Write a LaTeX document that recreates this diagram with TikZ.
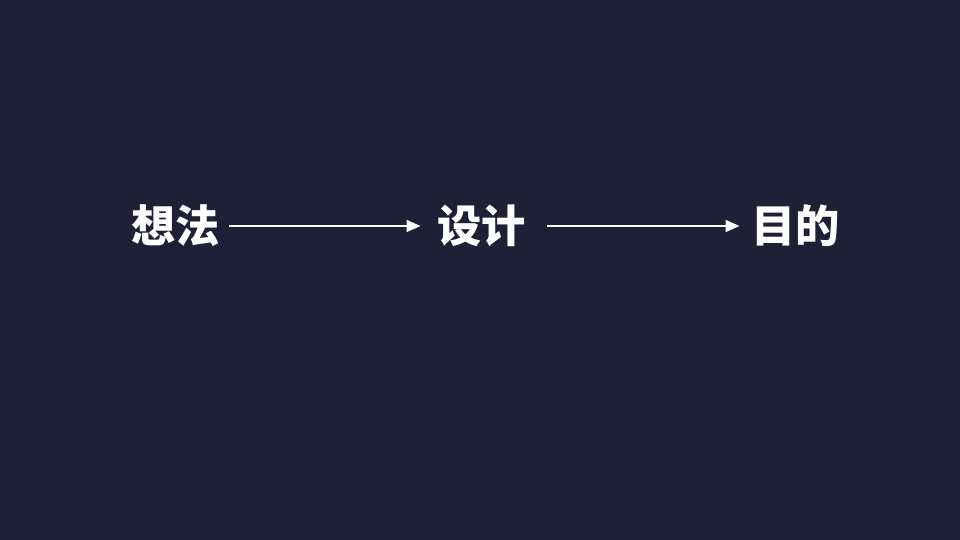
\documentclass[tikz,border=0pt]{standalone}
\usepackage{fontspec}
\newfontfamily\cjk{Noto Sans CJK SC}
\usetikzlibrary{arrows.meta}
\definecolor{bgnavy}{HTML}{1F2035}

\begin{document}
\begin{tikzpicture}[x = 1cm, y = 1cm,
    word/.style = {text = white, inner sep = 0pt, font = \cjk\bfseries\fontsize{12.6}{15}\selectfont},
    flow/.style = {draw = white, line width = 0.5pt, -{Triangle[length=1.4mm, width=1.2mm]}}]
    \fill[bgnavy] (0,0) rectangle (9.6,5.4);
    \useasboundingbox (0,0) rectangle (9.6,5.4);
    \node[word] (IDEA) at (1.76,3.14) {想法};
    \node[word] (DESIGN) at (4.815,3.14) {设计};
    \node[word] (GOAL) at (7.955,3.14) {目的};
    \draw[flow, shorten <= 0.8mm, shorten >= 1.6mm] (IDEA) -- (DESIGN);
    \draw[flow, shorten <= 2.1mm, shorten >= 1.1mm] (DESIGN) -- (GOAL);
\end{tikzpicture}
\end{document}
